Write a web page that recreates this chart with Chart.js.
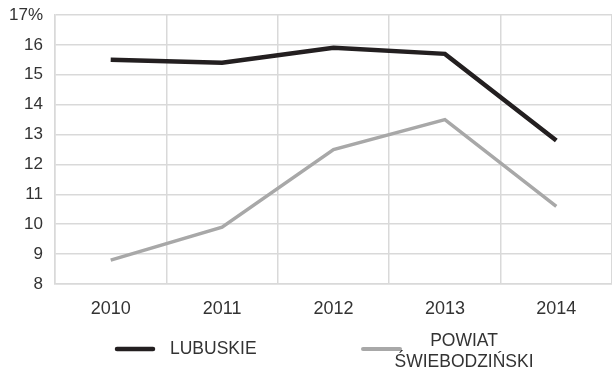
<!DOCTYPE html>
<html>
<head>
<meta charset="utf-8">
<script src="https://cdn.jsdelivr.net/npm/chart.js@4/dist/chart.umd.min.js"></script>
<style>
  html, body { margin: 0; padding: 0; background: #fff; }
  #wrap { width: 612px; height: 368px; position: relative; }
</style>
</head>
<body>
<div id="wrap"><canvas id="rateChart"></canvas></div>
<script>
var years = ['2010', '2011', '2012', '2013', '2014'];
var lubuskie = [15.5, 15.4, 15.9, 15.7, 12.8];
var powiat = [8.8, 9.9, 12.5, 13.5, 10.6];
var seriesNames = [['LUBUSKIE'], ['POWIAT', 'ŚWIEBODZIŃSKI']];
var seriesColors = ['#231f20', '#a8a8a8'];

var gridColor = '#d9d9d9';
var textColor = '#333333';
var fontFamily = '"Liberation Sans", Arial, sans-serif';

// legend drawn under the axis by hand, second label is on two lines
var bottomLegend = {
    id: 'bottomLegend',
    afterDraw: function (chart) {
        var ctx = chart.ctx;
        var items = [
            { x1: 117, x2: 153, y: 349, width: 4.5, textX: 170, align: 'left' },
            { x1: 363, x2: 400, y: 349, width: 4, textX: 464, align: 'center' }
        ];
        ctx.save();
        ctx.font = '17.5px ' + fontFamily;
        ctx.fillStyle = textColor;
        ctx.textBaseline = 'middle';
        items.forEach(function (it, i) {
            ctx.beginPath();
            ctx.strokeStyle = seriesColors[i];
            ctx.lineWidth = it.width;
            ctx.lineCap = 'round';
            ctx.moveTo(it.x1, it.y);
            ctx.lineTo(it.x2, it.y);
            ctx.stroke();
            ctx.textAlign = it.align;
            var lines = seriesNames[i];
            if (lines.length === 1) {
                ctx.fillText(lines[0], it.textX, it.y);
            } else {
                ctx.fillText(lines[0], it.textX, 341);
                ctx.fillText(lines[1], it.textX, 362);
            }
        });
        ctx.restore();
    }
};

var ctx = document.getElementById('rateChart').getContext('2d');

var rateChart = new Chart(ctx, {
    type: 'line',
    data: {
        labels: years,
        datasets: [{
            label: seriesNames[0].join(' '),
            data: lubuskie,
            borderColor: seriesColors[0],
            borderWidth: 4.5,
            pointRadius: 0,
            tension: 0,
            fill: false
        }, {
            label: seriesNames[1].join(' '),
            data: powiat,
            borderColor: seriesColors[1],
            borderWidth: 3.5,
            pointRadius: 0,
            tension: 0,
            fill: false
        }]
    },
    options: {
        responsive: true,
        maintainAspectRatio: false,
        animation: false,
        layout: {
            padding: { top: 15, right: 0, bottom: 0, left: 0 }
        },
        scales: {
            x: {
                offset: true,
                grid: { color: gridColor, lineWidth: 1.5, offset: true, drawTicks: false },
                border: { color: gridColor, width: 1.5 },
                ticks: {
                    color: textColor,
                    padding: 14,
                    font: { family: fontFamily, size: 18 }
                },
                afterFit: function (scale) { scale.height = 84; }
            },
            y: {
                min: 8,
                max: 17,
                grid: { color: gridColor, lineWidth: 1.5, drawTicks: false },
                border: { color: gridColor, width: 1.5 },
                ticks: {
                    stepSize: 1,
                    color: textColor,
                    padding: 12,
                    font: { family: fontFamily, size: 17 },
                    callback: function (v) { return v === 17 ? '17%' : v; }
                },
                afterFit: function (scale) {
                    scale.width = 55;
                    scale.paddingTop = 0;
                    scale.paddingBottom = 0;
                }
            }
        },
        plugins: {
            legend: { display: false },
            tooltip: { enabled: false }
        }
    },
    plugins: [bottomLegend]
});
</script>
</body>
</html>
